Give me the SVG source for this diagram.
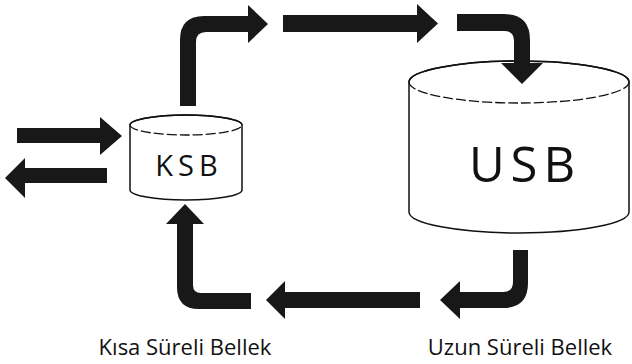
<svg xmlns="http://www.w3.org/2000/svg" width="632" height="364" viewBox="0 0 632 364">
  <style>
    .arrow { fill: #181818; }
    .cyl { fill: #ffffff; stroke: #111111; stroke-width: 1.5; }
    .edge { fill: none; stroke: #111111; stroke-width: 1.5; }
    .front { fill: none; stroke: #111111; stroke-width: 1.3; stroke-dasharray: 10 3; }
    .big { font-family: "Open Sans", "DejaVu Sans", sans-serif; fill: #111111; text-anchor: middle; }
    .label { font-family: "Open Sans", "DejaVu Sans", sans-serif; font-size: 22px; fill: #111111; text-anchor: middle; }
  </style>
  <rect x="0" y="0" width="632" height="364" fill="#ffffff"/>

  <g id="ksb">
    <path class="cyl" d="M130,125 L130,190 A56,10 0 0 0 242,190 L242,125 A56,10 0 0 0 130,125 Z"/>
    <path class="edge" d="M130,125 A56,10 0 0 1 242,125"/>
    <path class="front" d="M130,125 A56,10 0 0 0 242,125"/>
    <text class="big" x="189" y="176" font-size="29" letter-spacing="5">KSB</text>
  </g>

  <g id="usb">
    <path class="cyl" d="M409,82 L409,212 A110,21 0 0 0 629,212 L629,82 A110,21 0 0 0 409,82 Z"/>
    <path class="edge" d="M409,82 A110,21 0 0 1 629,82"/>
    <path class="front" d="M409,82 A110,21 0 0 0 629,82"/>
    <text class="big" x="525" y="182" font-size="49" letter-spacing="6">USB</text>
  </g>

  <g id="connectors">
    <path id="in-arrow" class="arrow" d="M17,128 L100,128 L100,117 L122,136 L100,155 L100,143 L17,143 Z"/>
    <path id="out-arrow" class="arrow" d="M107,168 L25,168 L25,158 L5,178 L25,198 L25,183 L107,183 Z"/>
    <path id="ksb-up" class="arrow" d="M180,106 L180,40 Q180,16 204,16 L248,16 L248,5 L268,24 L248,43 L248,32 L206,32 Q196,32 196,42 L196,106 Z"/>
    <path id="top-straight" class="arrow" d="M283,15 L417,15 L417,4 L438,23.5 L417,43 L417,32 L283,32 Z"/>
    <path id="to-usb" class="arrow" d="M457,14 L504,14 Q530,14 530,40 L530,63 L543,63 L522,84 L501,63 L514,63 L514,41 Q514,31 504,31 L457,31 Z"/>
    <path id="from-usb" class="arrow" d="M513,250 L528,250 L528,283 Q528,308 503,308 L460,308 L460,319 L440,300 L460,281 L460,292 L503,292 Q513,292 513,282 Z"/>
    <path id="bottom-straight" class="arrow" d="M420,292 L285,292 L285,281 L266,300 L285,319 L285,308 L420,308 Z"/>
    <path id="to-ksb" class="arrow" d="M251,293 L201,293 Q193,293 193,285 L193,224 L204,224 L185,204 L166,224 L177,224 L177,287 Q177,309 199,309 L251,309 Z"/>
  </g>

  <g id="labels">
    <text class="label" x="185" y="355">Kısa Süreli Bellek</text>
    <text class="label" x="520" y="355">Uzun Süreli Bellek</text>
  </g>
</svg>
